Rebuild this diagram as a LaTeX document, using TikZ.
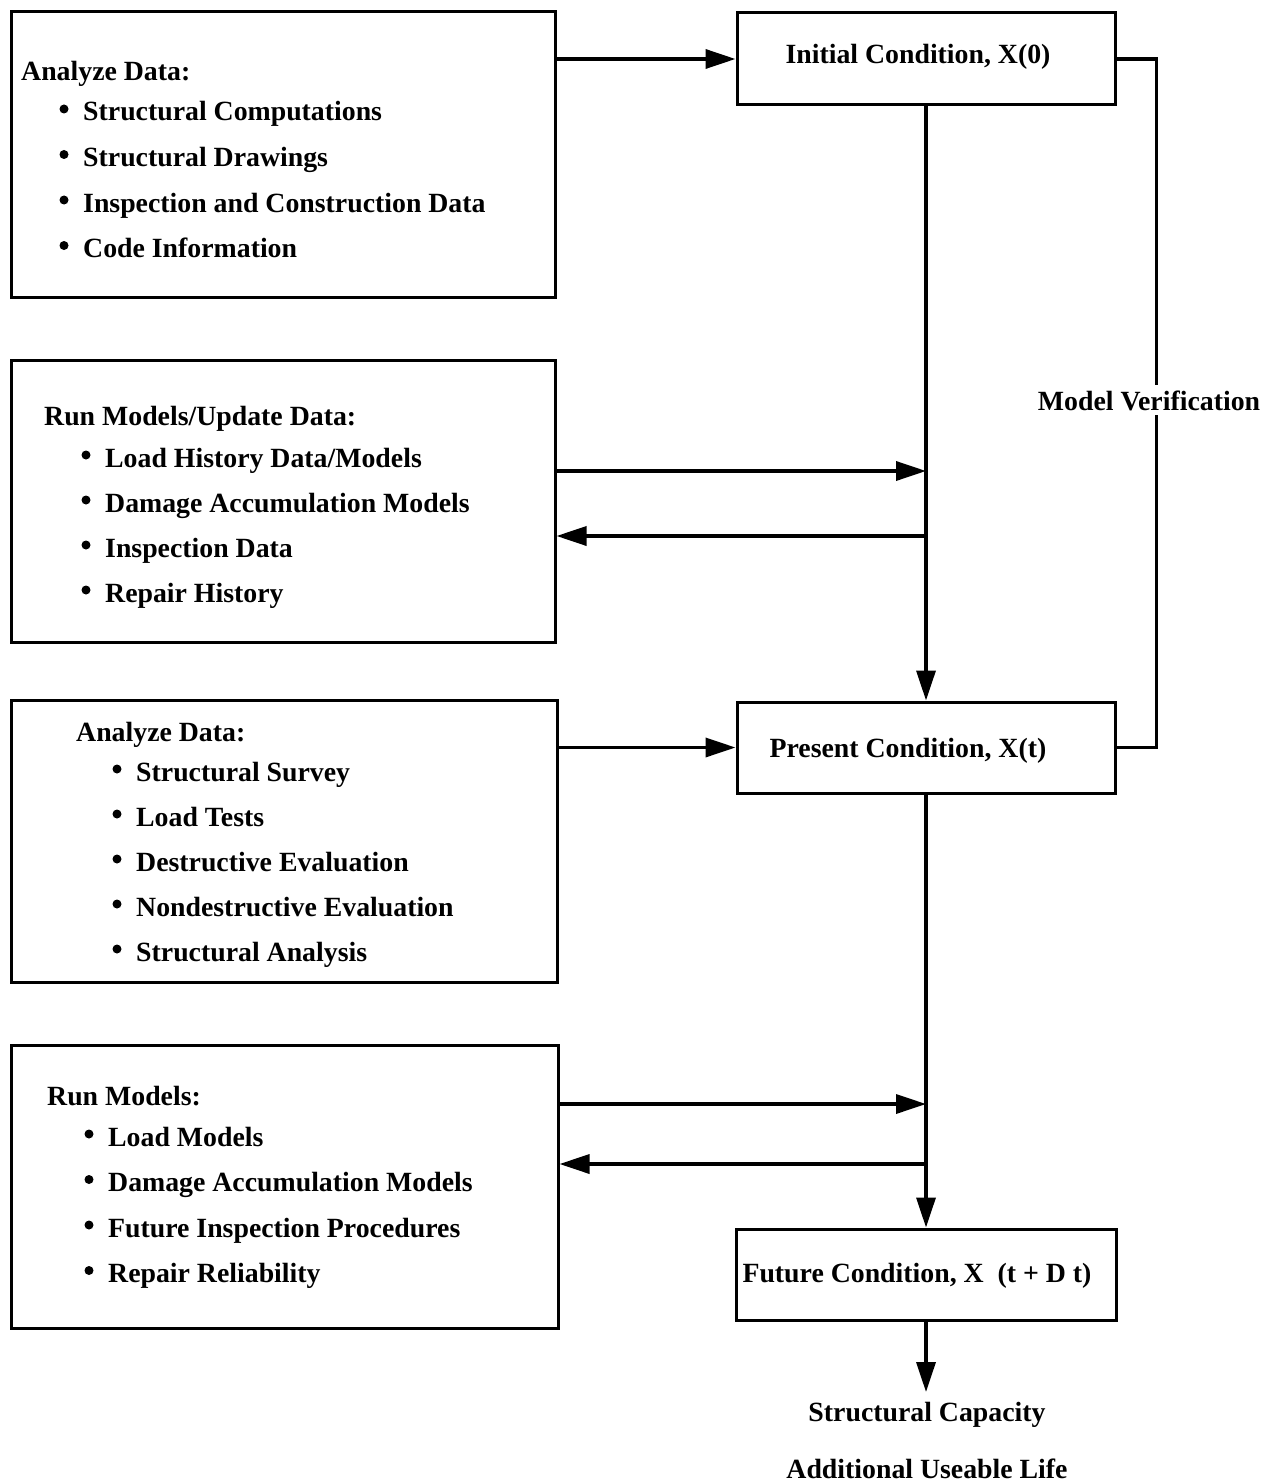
\documentclass[tikz,border=0pt]{standalone}
\usepackage{fontspec}
\setmainfont{Liberation Serif}
\usetikzlibrary{arrows.meta}
\tikzset{
  every picture/.style={line join=miter, >={Triangle[length=30pt,width=19pt]}},
  box/.style={draw, rectangle, line width=3pt, inner sep=0pt},
  link/.style={line width=3.5pt},
  lbl/.style={font=\fontsize{27.8}{30}\selectfont\bfseries, inner sep=0pt},
  bul/.style={fill},
}

\begin{document}
\begin{tikzpicture}[x=1pt,y=-1pt]
\useasboundingbox (0,0) rectangle (1276,1482);
% left boxes
\node[box, minimum width=544pt, minimum height=285pt] (data1) at (283,154.5) {};
\node[box, minimum width=544pt, minimum height=282pt] (runm) at (283,501) {};
\node[box, minimum width=546pt, minimum height=282pt] (data2) at (284,841) {};
\node[box, minimum width=547pt, minimum height=283pt] (runf) at (284.5,1186.5) {};
% right boxes
\node[box, minimum width=378pt, minimum height=92pt] (init) at (926,59) {};
\node[box, minimum width=378pt, minimum height=91pt] (present) at (926,747.5) {};
\node[box, minimum width=380pt, minimum height=91pt] (future) at (926,1274.5) {};
\node[lbl, anchor=base] (initT) at (918,64) {Initial Condition, X(0)};
\node[lbl, anchor=base] (presentT) at (908,757) {Present Condition, X(t)};
\node[lbl, anchor=base] (futureT) at (917,1282) {Future Condition, X~~(t + D t)};
% box texts
\node[lbl, anchor=base west] (h1) at (21,81) {Analyze Data:};
\foreach \txt [count=\n] in {Structural Computations, Structural Drawings,
    Inspection and Construction Data, Code Information} {
  \fill[bul] (64,{121+(\n-1)*45.5-12}) circle (4.5);
  \node[lbl, anchor=base west] (a\n) at (83,{121+(\n-1)*45.5}) {\txt};
}
\node[lbl, anchor=base west] (h2) at (44,425) {Run Models/Update Data:};
\foreach \txt [count=\n] in {Load History Data/Models, Damage Accumulation Models,
    Inspection Data, Repair History} {
  \fill[bul] (86,{467+(\n-1)*45-12}) circle (4.5);
  \node[lbl, anchor=base west] (b\n) at (105,{467+(\n-1)*45}) {\txt};
}
\node[lbl, anchor=base west] (h3) at (76,741) {Analyze Data:};
\foreach \txt [count=\n] in {Structural Survey, Load Tests, Destructive Evaluation,
    Nondestructive Evaluation, Structural Analysis} {
  \fill[bul] (117,{781+(\n-1)*45-12}) circle (4.5);
  \node[lbl, anchor=base west] (c\n) at (136,{781+(\n-1)*45}) {\txt};
}
\node[lbl, anchor=base west] (h4) at (47,1105) {Run Models:};
\foreach \txt [count=\n] in {Load Models, Damage Accumulation Models,
    Future Inspection Procedures, Repair Reliability} {
  \fill[bul] (89,{1146+(\n-1)*45.5-12}) circle (4.5);
  \node[lbl, anchor=base west] (d\n) at (108,{1146+(\n-1)*45.5}) {\txt};
}
% connectors
\coordinate (in2) at (926,471);
\coordinate (out2) at (926,536);
\coordinate (in4) at (926,1104);
\coordinate (out4) at (926,1164);
\coordinate (tip) at (926,1392);
\draw[link,->] (data1.east |- init.west) -- (init.west);
\draw[link,->] (data2.east |- present.west) -- (present.west);
\draw[link,->] (init.south) -- (present.north);
\draw[link,->] (present.south) -- (future.north);
\draw[link,->] (future.south) -- (tip);
\draw[link,->] (runm.east |- in2) -- (in2);
\draw[link,->] (out2) -- (runm.east |- out2);
\draw[link,->] (runf.east |- in4) -- (in4);
\draw[link,->] (out4) -- (runf.east |- out4);
\draw[link] (init.east) -- ++(40,0) |- (present.east);
\node[lbl, anchor=base, fill=white, inner sep=5pt] (verif) at (1149,410) {Model Verification};
\node[lbl, anchor=base] (cap) at (927,1421) {Structural Capacity};
\node[lbl, anchor=base] (life) at (927,1478) {Additional Useable Life};
\end{tikzpicture}
\end{document}
